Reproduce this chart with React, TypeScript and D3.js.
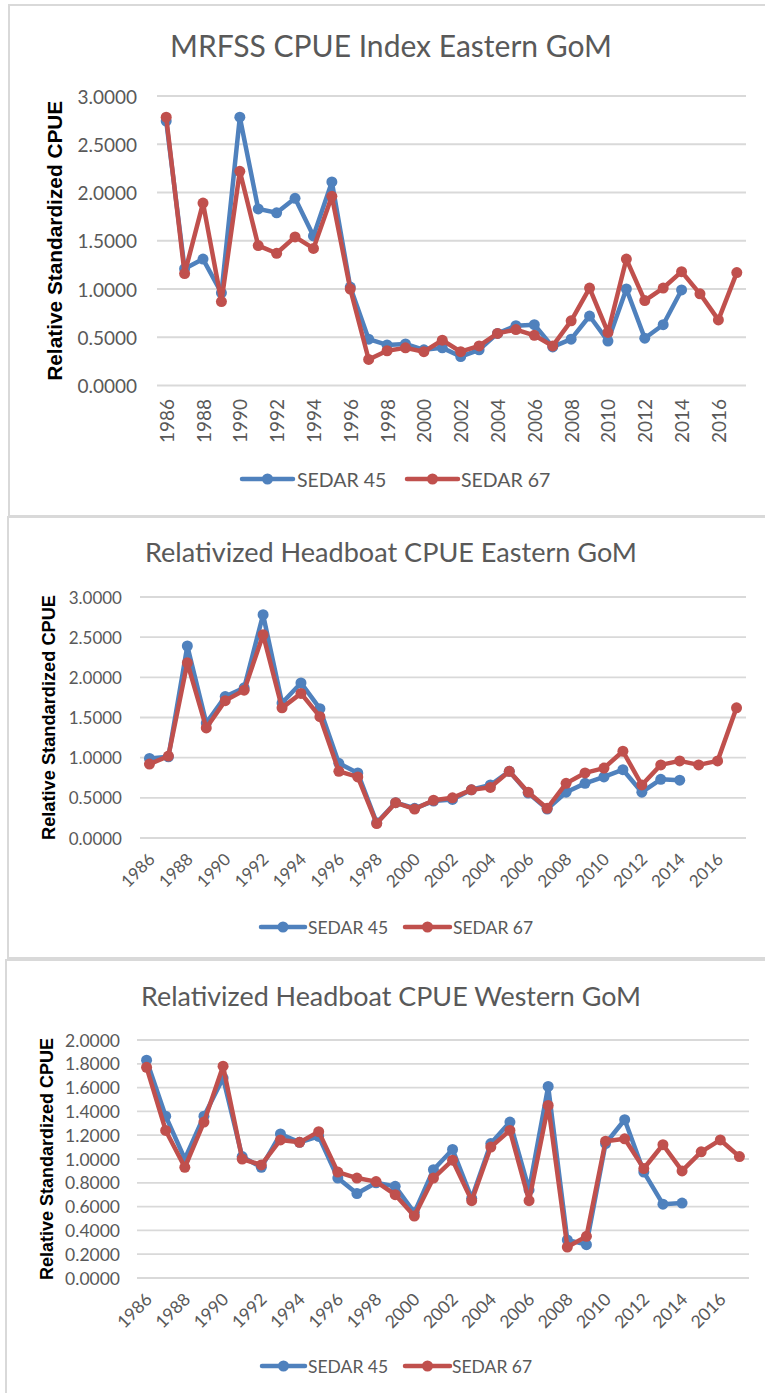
import React from "react";
import * as d3 from "d3";

const years = [
    1986, 1987, 1988, 1989, 1990, 1991, 1992, 1993, 1994, 1995, 1996,
    1997, 1998, 1999, 2000, 2001, 2002, 2003, 2004, 2005, 2006, 2007,
    2008, 2009, 2010, 2011, 2012, 2013, 2014, 2015, 2016, 2017
];
const labelYears = [
    1986, 1988, 1990, 1992, 1994, 1996, 1998, 2000,
    2002, 2004, 2006, 2008, 2010, 2012, 2014, 2016
];

const seriesNames = ["SEDAR 45", "SEDAR 67"];
const seriesColors = ["#4F81BD", "#C0504D"];

// MRFSS CPUE Index Eastern GoM
const mrfss45 = [
    2.74, 1.21, 1.31, 0.96, 2.78, 1.83, 1.79, 1.94, 1.55, 2.11, 1.02,
    0.48, 0.42, 0.43, 0.37, 0.39, 0.30, 0.37, 0.54, 0.62, 0.63, 0.40,
    0.48, 0.72, 0.46, 1.00, 0.49, 0.63, 0.99
];
const mrfss67 = [
    2.78, 1.16, 1.89, 0.87, 2.22, 1.45, 1.37, 1.54, 1.42, 1.96, 1.00,
    0.27, 0.36, 0.39, 0.35, 0.47, 0.35, 0.41, 0.54, 0.58, 0.52, 0.41,
    0.67, 1.01, 0.55, 1.31, 0.88, 1.01, 1.18, 0.95, 0.68, 1.17
];

// Relativized Headboat CPUE Eastern GoM
const hbEast45 = [
    0.99, 1.01, 2.39, 1.43, 1.76, 1.87, 2.78, 1.68, 1.93, 1.61, 0.93,
    0.81, 0.19, 0.44, 0.37, 0.46, 0.48, 0.60, 0.66, 0.83, 0.56, 0.36,
    0.57, 0.68, 0.76, 0.85, 0.57, 0.73, 0.72
];
const hbEast67 = [
    0.92, 1.02, 2.18, 1.37, 1.71, 1.84, 2.53, 1.62, 1.80, 1.51, 0.83,
    0.76, 0.18, 0.44, 0.36, 0.47, 0.50, 0.60, 0.63, 0.83, 0.57, 0.37,
    0.68, 0.81, 0.87, 1.08, 0.66, 0.91, 0.96, 0.91, 0.96, 1.62
];

// Relativized Headboat CPUE Western GoM
const hbWest45 = [
    1.83, 1.36, 1.00, 1.36, 1.68, 1.02, 0.93, 1.21, 1.14, 1.19, 0.84,
    0.71, 0.80, 0.77, 0.55, 0.91, 1.08, 0.67, 1.13, 1.31, 0.74, 1.61,
    0.32, 0.28, 1.13, 1.33, 0.89, 0.62, 0.63
];
const hbWest67 = [
    1.77, 1.24, 0.93, 1.31, 1.78, 1.00, 0.95, 1.16, 1.14, 1.23, 0.89,
    0.84, 0.81, 0.70, 0.52, 0.84, 0.99, 0.65, 1.10, 1.24, 0.65, 1.45,
    0.26, 0.35, 1.15, 1.17, 0.92, 1.12, 0.90, 1.06, 1.16, 1.02
];

const halfTicks = [0, 0.5, 1, 1.5, 2, 2.5, 3];
const fifthTicks = [0, 0.2, 0.4, 0.6, 0.8, 1, 1.2, 1.4, 1.6, 1.8, 2];

const yTitle = "Relative Standardized CPUE";
const textGrey = "#595959";
const gridGrey = "#D9D9D9";
const bodyFont = "Lato, 'Open Sans', sans-serif";

interface ILegendPos {
    y: number;
    lines: [number, number][];
    textX: number[];
}

interface IPanelProps {
    title: string;
    s45: number[];
    s67: number[];
    yTicks: number[];
    box: { x: number, y: number, bottom: number };
    plot: { left: number, right: number, top: number, bottom: number };
    titleY: number;
    titleSize: number;
    titleLength: number;
    tickSize: number;
    tickRight: number;
    axisTitleX: number;
    axisTitleSize: number;
    axisTitleLength: number;
    xLabelAngle: number;
    xLabelY: number;
    xLabelDx: number;
    legend: ILegendPos;
    legendSize: number;
}

function Panel(props: IPanelProps) {
    const { plot } = props;
    const x = d3.scalePoint<number>().domain(years).range([plot.left, plot.right]).padding(0.5);
    const y = d3.scaleLinear()
        .domain([props.yTicks[0], props.yTicks[props.yTicks.length - 1]])
        .range([plot.bottom, plot.top]);
    const line = d3.line<number>()
        .x((d, i) => x(years[i])!)
        .y((d) => y(d));
    const fmt = d3.format(".4f");
    const series = [props.s45, props.s67];

    return <g>
        <rect x={props.box.x} y={props.box.y} width={820} height={props.box.bottom - props.box.y}
            fill="white" stroke={gridGrey} strokeWidth={2} />
        <text x={391} y={props.titleY} textAnchor="middle" fill={textGrey}
            fontFamily={bodyFont} fontSize={props.titleSize}
            textLength={props.titleLength} lengthAdjust="spacingAndGlyphs">{props.title}</text>

        {/* Grid + y ticks */}
        {props.yTicks.map((t) => (
            <g key={t}>
                <line x1={plot.left} x2={plot.right} y1={y(t)} y2={y(t)} stroke={gridGrey} strokeWidth={1.8} />
                <text x={props.tickRight} y={y(t)} textAnchor="end" dominantBaseline="central"
                    fill={textGrey} fontFamily={bodyFont} fontSize={props.tickSize}>{fmt(t)}</text>
            </g>
        ))}

        <text transform={`translate(${props.axisTitleX},${(plot.top + plot.bottom) / 2}) rotate(-90)`}
            textAnchor="middle" dominantBaseline="central" fontWeight="bold" fill="black"
            fontFamily="'Liberation Sans', Arial, sans-serif" fontSize={props.axisTitleSize}
            textLength={props.axisTitleLength} lengthAdjust="spacingAndGlyphs">{yTitle}</text>

        {/* x labels */}
        {labelYears.map((yr) => (
            <text key={yr}
                transform={`translate(${x(yr)! + props.xLabelDx},${props.xLabelY}) rotate(${props.xLabelAngle})`}
                textAnchor="end" dominantBaseline="central" fill={textGrey}
                fontFamily={bodyFont} fontSize={props.tickSize}>{yr}</text>
        ))}

        {series.map((s, si) => (
            <g key={si}>
                <path d={line(s)!} fill="none" stroke={seriesColors[si]} strokeWidth={4.5}
                    strokeLinejoin="round" strokeLinecap="round" />
                {s.map((v, i) => (
                    <circle key={i} cx={x(years[i])} cy={y(v)} r={5.5} fill={seriesColors[si]} />
                ))}
            </g>
        ))}

        {/* legend */}
        {seriesNames.map((name, si) => {
            const [l1, l2] = props.legend.lines[si];
            return <g key={name}>
                <line x1={l1} x2={l2} y1={props.legend.y} y2={props.legend.y}
                    stroke={seriesColors[si]} strokeWidth={4.5} strokeLinecap="round" />
                <circle cx={(l1 + l2) / 2} cy={props.legend.y} r={5.5} fill={seriesColors[si]} />
                <text x={props.legend.textX[si]} y={props.legend.y} dominantBaseline="central"
                    fill={textGrey} fontFamily={bodyFont} fontSize={props.legendSize}>{name}</text>
            </g>;
        })}
    </g>;
}

export default function App() {
    return <svg width={765} height={1393} style={{ position: "absolute", left: 0, top: 0 }}>
        <rect width={765} height={1393} fill="white" />
        <Panel title="MRFSS CPUE Index Eastern GoM" s45={mrfss45} s67={mrfss67} yTicks={halfTicks}
            box={{ x: 9, y: 5, bottom: 516 }}
            plot={{ left: 157, right: 746, top: 96, bottom: 385.5 }}
            titleY={57} titleSize={30} titleLength={442}
            tickSize={19} tickRight={137}
            axisTitleX={55} axisTitleSize={20} axisTitleLength={280}
            xLabelAngle={-90} xLabelY={399} xLabelDx={0}
            legend={{ y: 479, lines: [[242, 293], [407, 458]], textX: [297, 461] }}
            legendSize={19.5} />
        <Panel title="Relativized Headboat CPUE Eastern GoM" s45={hbEast45} s67={hbEast67} yTicks={halfTicks}
            box={{ x: 8, y: 517, bottom: 958 }}
            plot={{ left: 140, right: 746, top: 597, bottom: 838 }}
            titleY={562} titleSize={26.5} titleLength={492}
            tickSize={17} tickRight={122}
            axisTitleX={49} axisTitleSize={18} axisTitleLength={245}
            xLabelAngle={-45} xLabelY={856} xLabelDx={2}
            legend={{ y: 927, lines: [[261, 305], [405, 450]], textX: [308, 453] }}
            legendSize={17.5} />
        <Panel title="Relativized Headboat CPUE Western GoM" s45={hbWest45} s67={hbWest67} yTicks={fifthTicks}
            box={{ x: 6, y: 960, bottom: 1420 }}
            plot={{ left: 137, right: 749, top: 1040, bottom: 1278 }}
            titleY={1006} titleSize={26.5} titleLength={500}
            tickSize={17.5} tickRight={120}
            axisTitleX={47} axisTitleSize={18} axisTitleLength={242}
            xLabelAngle={-45} xLabelY={1296} xLabelDx={2}
            legend={{ y: 1366, lines: [[262, 305], [405, 450]], textX: [308, 452] }}
            legendSize={17.5} />
    </svg>;
}
